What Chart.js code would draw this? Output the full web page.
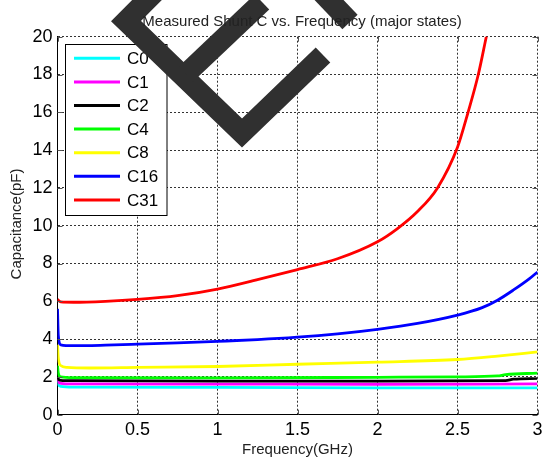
<!DOCTYPE html>
<html><head><meta charset="utf-8">
<script src="https://cdn.jsdelivr.net/npm/chart.js@4/dist/chart.umd.min.js"></script>
<style>html,body{margin:0;padding:0;background:#fff;}#wrap{width:548px;height:460px;position:relative;}</style>
</head><body><div id="wrap"><canvas id="c" width="548" height="460"></canvas></div>
<script>
const seriesNames = ['C0','C1','C2','C4','C8','C16','C31'];
const seriesColors = ['#00ffff','#ff00ff','#000000','#00ff00','#ffff00','#0000ff','#ff0000'];

const c0Freq = [0, 0.005, 0.02, 0.1, 1.0, 2.0, 3.0];
const c0Cap  = [1.8, 1.6, 1.5, 1.46, 1.45, 1.42, 1.42];
const c1Freq = [0, 0.005, 0.02, 0.1, 1.0, 2.0, 3.0];
const c1Cap  = [1.9, 1.75, 1.66, 1.63, 1.62, 1.61, 1.63];
const c2Freq = [0, 0.005, 0.02, 0.1, 1.0, 2.0, 2.8, 2.85, 3.0];
const c2Cap  = [2.05, 1.9, 1.82, 1.8, 1.78, 1.78, 1.8, 1.88, 1.92];
const c4Freq = [0, 0.005, 0.02, 0.1, 1.0, 2.0, 2.5, 2.75, 2.8, 3.0];
const c4Cap  = [2.6, 2.2, 2.0, 1.96, 1.95, 1.98, 2.0, 2.05, 2.12, 2.2];
const c8Freq = [0, 0.005, 0.02, 0.06, 0.2, 0.5, 1.0, 1.5, 2.0, 2.5, 2.75, 3.0];
const c8Cap  = [3.7, 3.0, 2.6, 2.5, 2.47, 2.5, 2.55, 2.67, 2.78, 2.92, 3.1, 3.32];
const c16Freq = [0, 0.005, 0.02, 0.1, 0.3, 0.5, 0.75, 1.0, 1.25, 1.5, 1.75, 2.0, 2.25, 2.5, 2.65, 2.75, 2.85, 2.95, 3.0];
const c16Cap  = [5.6, 4.2, 3.7, 3.65, 3.68, 3.73, 3.8, 3.88, 3.97, 4.1, 4.28, 4.52, 4.83, 5.27, 5.65, 6.06, 6.6, 7.2, 7.55];
const c31Freq = [0, 0.02, 0.1, 0.3, 0.5, 0.75, 1.0, 1.25, 1.5, 1.75, 2.0, 2.125, 2.25, 2.375, 2.5, 2.566, 2.63, 2.68, 2.72];
const c31Cap  = [6.1, 5.97, 5.95, 6.0, 6.1, 6.3, 6.65, 7.15, 7.68, 8.25, 9.15, 9.85, 10.75, 12.0, 14.15, 16.0, 18.0, 20.0, 21.6];

const xTickValues = [0, 0.5, 1, 1.5, 2, 2.5, 3];
const xTickLabels = ['0', '0.5', '1', '1.5', '2', '2.5', '3'];
const yTickValues = [0, 2, 4, 6, 8, 10, 12, 14, 16, 18, 20];
const yTickLabels = ['0', '2', '4', '6', '8', '10', '12', '14', '16', '18', '20'];
const chartTitle = 'Measured Shunt C vs. Frequency (major states)';
const xTitle = 'Frequency(GHz)';
const yTitle = 'Capacitance(pF)';

const freqs = [c0Freq, c1Freq, c2Freq, c4Freq, c8Freq, c16Freq, c31Freq];
const caps = [c0Cap, c1Cap, c2Cap, c4Cap, c8Cap, c16Cap, c31Cap];

const FONT = '"Liberation Sans", Arial, Helvetica, sans-serif';

const datasets = seriesNames.map((name, i) => ({
  label: name,
  data: freqs[i].map((f, k) => ({x: f, y: caps[i][k]})),
  borderColor: seriesColors[i],
  backgroundColor: seriesColors[i],
  borderWidth: 2.8,
  pointRadius: 0,
  fill: false,
  cubicInterpolationMode: 'monotone',
  order: seriesNames.length - 1 - i
}));

const decorPlugin = {
  id: 'decor',
  afterDraw(chart) {
    const ctx = chart.ctx;
    const a = chart.chartArea;
    const xs = chart.scales.x, ys = chart.scales.y;
    ctx.save();
    // inner tick marks
    ctx.strokeStyle = '#555';
    ctx.lineWidth = 1;
    ctx.beginPath();
    xTickValues.forEach(v => {
      const px = Math.round(xs.getPixelForValue(v)) + 0.5;
      ctx.moveTo(px, a.bottom); ctx.lineTo(px, a.bottom - 5);
      ctx.moveTo(px, a.top); ctx.lineTo(px, a.top + 5);
    });
    yTickValues.forEach(v => {
      const py = Math.round(ys.getPixelForValue(v)) + 0.5;
      ctx.moveTo(a.left, py); ctx.lineTo(a.left + 5, py);
      ctx.moveTo(a.right, py); ctx.lineTo(a.right - 5, py);
    });
    ctx.stroke();

    // legend box
    const lx = 65.5, ly = 44.5, lw = 101.5, lh = 171;
    ctx.fillStyle = '#fff';
    ctx.fillRect(lx, ly, lw, lh);
    ctx.strokeStyle = '#000';
    ctx.lineWidth = 1;
    ctx.strokeRect(lx, ly, lw, lh);
    ctx.font = '17px ' + FONT;
    ctx.textBaseline = 'middle';
    ctx.textAlign = 'left';
    chart.data.datasets.forEach((ds, i) => {
      const y = 58.3 + i * 23.6;
      ctx.strokeStyle = ds.borderColor;
      ctx.lineWidth = 3;
      ctx.beginPath();
      ctx.moveTo(74, y); ctx.lineTo(120, y);
      ctx.stroke();
      ctx.fillStyle = '#000';
      ctx.fillText(ds.label, 127, y + 1);
    });

    // watermark shape
    ctx.save();
    ctx.strokeStyle = '#303030';
    ctx.lineWidth = 21;
    ctx.lineCap = 'butt';
    ctx.lineJoin = 'miter';
    ctx.beginPath();
    ctx.moveTo(168, -21); ctx.lineTo(126, 21); ctx.lineTo(242, 133); ctx.lineTo(323, 55);
    ctx.stroke();
    ctx.beginPath();
    ctx.moveTo(186, 74); ctx.lineTo(262, 2);
    ctx.stroke();
    ctx.beginPath();
    ctx.moveTo(310, -20); ctx.lineTo(350, 22);
    ctx.stroke();
    ctx.restore();

    // titles
    ctx.fillStyle = '#222';
    ctx.font = '15px ' + FONT;
    ctx.textAlign = 'center';
    ctx.textBaseline = 'alphabetic';
    ctx.fillText(chartTitle, 302, 25.5);
    ctx.textBaseline = 'middle';
    ctx.fillText(xTitle, (a.left + a.right) / 2, 450);
    ctx.save();
    ctx.translate(17, 224);
    ctx.rotate(-Math.PI / 2);
    ctx.fillText(yTitle, 0, 0);
    ctx.restore();
    ctx.restore();
  }
};

new Chart(document.getElementById('c'), {
  type: 'line',
  data: { datasets },
  options: {
    responsive: false,
    animation: false,
    devicePixelRatio: 1,
    layout: { padding: { left: 0, right: 10.5, top: 36.7, bottom: 0 } },
    plugins: { legend: { display: false }, title: { display: false }, tooltip: { enabled: false } },
    scales: {
      x: {
        type: 'linear', min: 0, max: 3,
        afterFit(s) { s.height = 45.3; },
        afterBuildTicks(s) { s.ticks = xTickValues.map(v => ({ value: v })); },
        ticks: { font: { family: FONT, size: 18 }, color: '#000', padding: 5, maxRotation: 0, autoSkip: false,
                 callback: (v) => xTickLabels[xTickValues.indexOf(v)] },
        grid: { color: '#333', lineWidth: 1, drawTicks: false },
        border: { display: true, color: '#000', width: 1, dash: [2, 2] }
      },
      y: {
        type: 'linear', min: 0, max: 20,
        afterFit(s) { s.width = 57.5; },
        afterBuildTicks(s) { s.ticks = yTickValues.map(v => ({ value: v })); },
        ticks: { font: { family: FONT, size: 18 }, color: '#000', padding: 5, autoSkip: false,
                 callback: (v) => yTickLabels[yTickValues.indexOf(v)] },
        grid: { color: '#333', lineWidth: 1, drawTicks: false },
        border: { display: true, color: '#000', width: 1, dash: [2, 2] }
      }
    }
  },
  plugins: [decorPlugin]
});
</script></body></html>
